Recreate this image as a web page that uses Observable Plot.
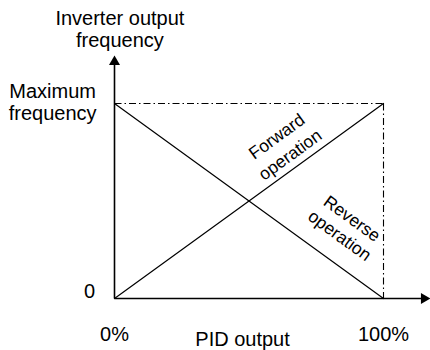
<!DOCTYPE html>
<html>
<head>
<meta charset="utf-8">
<script src="https://cdn.jsdelivr.net/npm/d3@7"></script>
<script src="https://cdn.jsdelivr.net/npm/@observablehq/plot@0.6"></script>
<style>
  html, body { margin: 0; padding: 0; background: #fff; }
  #chart svg { display: block; }
</style>
</head>
<body>
<div id="chart"></div>
<script>
// ---- data ----
const pidOutput = [0, 100];          // PID output, %
const forwardFreq = [0, 1];          // forward operation (fraction of max frequency)
const reverseFreq = [1, 0];          // reverse operation
const maxFrequency = 1;
const xTickValues = [0, 100];
const xTickLabels = ["0%", "100%"];
const yTickLabels = ["0", "Maximum\nfrequency"];
const xTitle = "PID output";
const yTitle = "Inverter output\nfrequency";
const lineLabels = ["Forward\noperation", "Reverse\noperation"];

const forward = pidOutput.map((p, i) => ({x: p, y: forwardFreq[i]}));
const reverse = pidOutput.map((p, i) => ({x: p, y: reverseFreq[i]}));
const font = "'Liberation Sans', Arial, sans-serif";
const dash = "7,3,1.5,3";

const chart = Plot.plot({
  width: 430,
  height: 350,
  marginLeft: 114,
  marginRight: 47,
  marginTop: 103,
  marginBottom: 52,
  x: {domain: [0, 100], axis: null},
  y: {domain: [0, 1], axis: null},
  style: {fontFamily: font, background: "#fff", color: "#000"},
  marks: [
    // dash-dot guides at max frequency and 100%
    Plot.link([{x1: 0, y1: maxFrequency, x2: 100, y2: maxFrequency}],
      {x1: "x1", y1: "y1", x2: "x2", y2: "y2", stroke: "#000", strokeWidth: 1.1, strokeDasharray: dash}),
    Plot.link([{x1: 100, y1: maxFrequency, x2: 100, y2: 0}],
      {x1: "x1", y1: "y1", x2: "x2", y2: "y2", stroke: "#000", strokeWidth: 1.1, strokeDasharray: dash}),
    // operation lines
    Plot.line(forward, {x: "x", y: "y", stroke: "#000", strokeWidth: 1.2}),
    Plot.line(reverse, {x: "x", y: "y", stroke: "#000", strokeWidth: 1.2}),
    // axes
    Plot.link([{x1: 0, y1: 0, x2: 0, y2: 1.21}],
      {x1: "x1", y1: "y1", x2: "x2", y2: "y2", stroke: "#000", strokeWidth: 1.6}),
    Plot.link([{x1: 0, y1: 0, x2: 115, y2: 0}],
      {x1: "x1", y1: "y1", x2: "x2", y2: "y2", stroke: "#000", strokeWidth: 1.6}),
    Plot.dot([{x: 0, y: 1.214}], {x: "x", y: "y", symbol: "triangle", r: 4.1, fill: "#000", stroke: null}),
    Plot.dot([{x: 115.1, y: 0}], {x: "x", y: "y", symbol: "triangle", r: 4.1, fill: "#000", stroke: null, rotate: 90}),
    // tick labels
    Plot.text([xTickLabels[0]], {x: xTickValues[0], y: -0.185, text: d => d, fontSize: 20, textAnchor: "middle"}),
    Plot.text([xTickLabels[1]], {x: xTickValues[1], y: -0.185, text: d => d, fontSize: 20, textAnchor: "middle"}),
    Plot.text([yTickLabels[0]], {x: -9.3, y: 0.036, text: d => d, fontSize: 20, textAnchor: "middle"}),
    Plot.text([yTickLabels[1]], {x: -23, y: 1.01, text: d => d, fontSize: 20, textAnchor: "middle", lineHeight: 1.1}),
    // titles
    Plot.text([xTitle], {x: 47.6, y: -0.21, text: d => d, fontSize: 20, textAnchor: "middle"}),
    Plot.text([yTitle], {x: 2, y: 1.38, text: d => d, fontSize: 20, textAnchor: "middle", lineHeight: 1.1}),
    // line labels
    Plot.text([lineLabels[0]], {x: 62.5, y: 0.79, text: d => d, fontSize: 17.5, textAnchor: "middle", lineHeight: 1.3, rotate: -36}),
    Plot.text([lineLabels[1]], {x: 86.2, y: 0.37, text: d => d, fontSize: 17.5, textAnchor: "middle", lineHeight: 1.2, rotate: 36})
  ]
});
document.getElementById("chart").appendChild(chart);
</script>
</body>
</html>
